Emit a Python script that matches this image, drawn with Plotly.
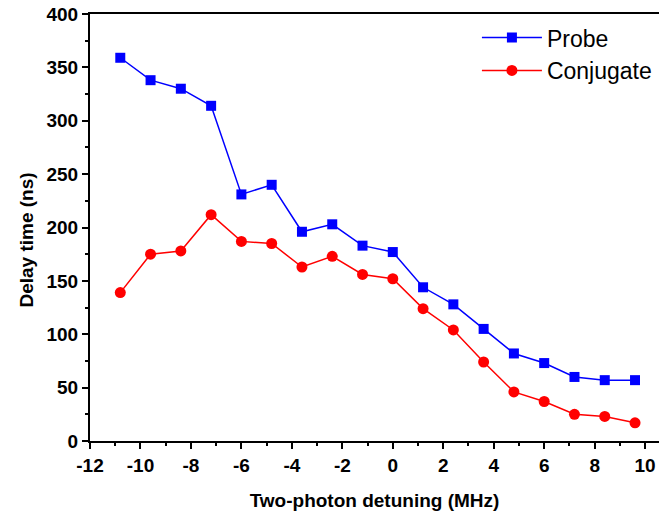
import plotly.graph_objects as go

detuning = [-10.8, -9.6, -8.4, -7.2, -6.0, -4.8, -3.6, -2.4, -1.2, 0.0, 1.2, 2.4, 3.6, 4.8, 6.0, 7.2, 8.4, 9.6]
probe = [359, 338, 330, 314, 231, 240, 196, 203, 183, 177, 144, 128, 105, 82, 73, 60, 57, 57]
conjugate = [139, 175, 178, 212, 187, 185, 163, 173, 156, 152, 124, 104, 74, 46, 37, 25, 23, 17]
x_ticks = [-12, -10, -8, -6, -4, -2, 0, 2, 4, 6, 8, 10]
y_ticks = [0, 50, 100, 150, 200, 250, 300, 350, 400]

fig = go.Figure()
fig.add_trace(go.Scatter(x=detuning, y=probe, mode="lines+markers", name="Probe",
                         line=dict(color="#0000ff", width=1.5),
                         marker=dict(symbol="square", size=10, color="#0000ff")))
fig.add_trace(go.Scatter(x=detuning, y=conjugate, mode="lines+markers", name="Conjugate",
                         line=dict(color="#ff0000", width=1.5),
                         marker=dict(symbol="circle", size=11, color="#ff0000")))

bold19 = dict(family="Liberation Sans, Arial", size=19, color="black", weight="bold")
fig.update_layout(
    width=659, height=512,
    margin=dict(l=89.5, r=0, t=14, b=71),
    paper_bgcolor="white", plot_bgcolor="white",
    showlegend=True,
    legend=dict(x=0.68, y=0.995, xanchor="left", yanchor="top",
                font=dict(family="Liberation Sans, Arial", size=23, color="black"),
                bgcolor="rgba(0,0,0,0)", tracegroupgap=0, itemwidth=60),
    xaxis=dict(range=[-12, 10.55], tickvals=x_ticks, ticktext=[str(v) for v in x_ticks],
               showgrid=False, zeroline=False, showline=True, linecolor="black", linewidth=2,
               mirror=True, ticks="outside", ticklen=6, tickwidth=2, tickcolor="black",
               minor=dict(dtick=1, ticks="outside", ticklen=3, tickwidth=1.5, tickcolor="black"),
               tickfont=bold19,
               title=dict(text="Two-photon detuning (MHz)", font=bold19, standoff=19)),
    yaxis=dict(range=[0, 400], tickvals=y_ticks, ticktext=[str(v) for v in y_ticks],
               showgrid=False, zeroline=False, showline=True, linecolor="black", linewidth=2,
               ticks="outside", ticklen=6, tickwidth=2, tickcolor="black",
               minor=dict(dtick=25, ticks="outside", ticklen=3, tickwidth=1.5, tickcolor="black"),
               tickfont=bold19),
    annotations=[dict(text="Delay time (ns)", textangle=-90, showarrow=False,
                      xref="paper", yref="paper", x=-0.1133, y=0.4707,
                      xanchor="center", yanchor="middle", font=bold19)],
)
fig.write_html("out.html")
